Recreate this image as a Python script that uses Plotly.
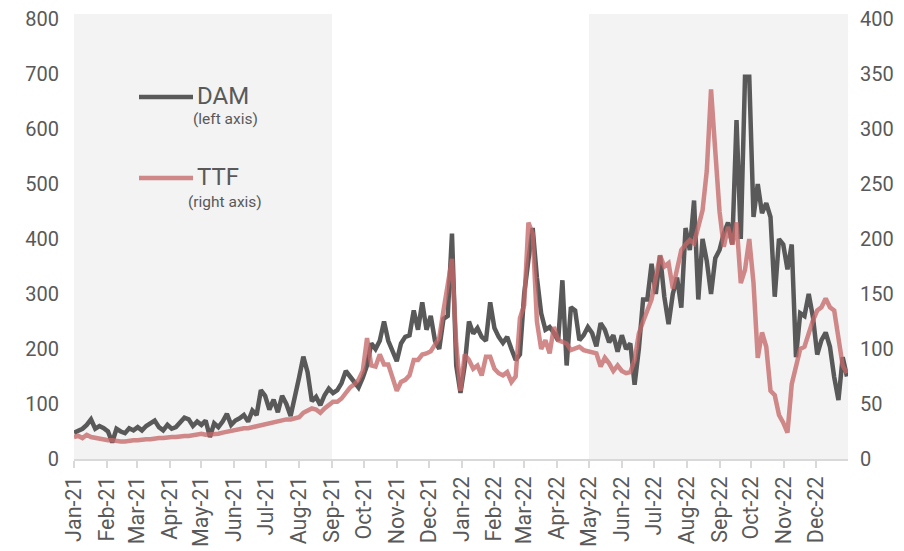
import pandas as pd
import plotly.graph_objects as go

# Observations every 4 days from 1 Jan 2021
start_date = "2021-01-01"
step = "4D"

dam = [48,52,55,62,72,55,60,56,50,30,55,50,47,56,52,58,52,60,65,70,58,52,62,55,58,68,75,72,60,68,62,
       70,40,65,58,68,82,62,70,74,80,68,88,80,125,115,90,108,85,115,100,78,110,148,186,158,105,113,98,116,128,120,
       125,138,160,150,140,130,148,170,210,200,215,250,215,195,178,210,222,225,270,235,285,235,260,215,200,255,260,410,170,120,170,
       250,228,238,222,215,285,238,222,211,222,200,180,190,300,362,420,330,265,235,240,229,215,325,170,276,270,216,225,240,229,
       205,247,235,212,225,195,225,200,210,135,200,290,290,355,300,370,295,245,300,330,275,420,380,470,290,400,360,300,365,380,410,
       430,390,616,400,695,695,440,500,447,465,440,295,400,390,345,390,185,265,260,300,258,190,216,230,204,149,107,185,150]

ttf = [20,21,19,22,20,19,18,18,17,17,16,16,16,17,17,17,18,18,18,19,19,19,20,20,20,21,21,21,22,22,23,
       22,22,23,23,24,25,25,26,27,28,28,29,30,31,32,33,34,35,35,36,36,37,38,42,44,46,45,42,46,49,52,
       52,55,60,65,68,72,80,110,85,84,95,86,86,75,62,70,72,76,90,90,95,96,98,104,110,135,160,182,105,62,95,
       90,82,85,76,93,93,82,78,76,79,70,75,128,140,215,205,125,100,108,96,120,108,106,105,99,100,102,99,98,96,
       96,84,92,87,80,85,80,78,79,90,114,125,135,145,165,185,175,178,155,172,190,195,199,196,210,226,262,336,280,225,193,
       211,195,215,160,172,200,160,92,115,102,62,58,40,33,24,68,85,100,102,115,126,135,138,146,138,135,110,85,78]

dates = pd.date_range(start_date, periods=len(dam), freq=step)

shade_periods = [("2021-01-01", "2021-09-01"), ("2022-05-01", "2022-12-31")]

DAM_COLOR = "#595959"
TTF_COLOR = "rgba(196,104,104,0.78)"
TEXT = "#595959"
FONT = "Roboto"

# page body has an 8px default margin; size the figure so the plot lands where the reference has it
W, H = 896, 543
L, R, T, B = 66, 56, 11, 92
PW, PH = W - L - R, H - T - B


def px(xpage):
    return (xpage - 8 - L) / PW


def py(ypage):
    return (H - B - (ypage - 8)) / PH


fig = go.Figure()
fig.add_trace(go.Scatter(x=dates, y=dam, mode="lines", name="DAM",
                         line=dict(color=DAM_COLOR, width=4.5), yaxis="y"))
fig.add_trace(go.Scatter(x=dates, y=ttf, mode="lines", name="TTF",
                         line=dict(color=TTF_COLOR, width=4.5), yaxis="y2"))

for a, b in shade_periods:
    fig.add_shape(type="rect", xref="x", yref="paper", x0=a, x1=b, y0=0, y1=py(14),
                  fillcolor="#f3f3f3", line_width=0, layer="below")

# custom legend
fig.add_shape(type="line", xref="paper", yref="paper", x0=px(139), x1=px(193),
              y0=py(97), y1=py(97), line=dict(color=DAM_COLOR, width=4.5))
fig.add_shape(type="line", xref="paper", yref="paper", x0=px(139), x1=px(193),
              y0=py(178), y1=py(178), line=dict(color=TTF_COLOR, width=4.5))
fig.add_annotation(xref="paper", yref="paper", x=px(195), y=py(96), text="DAM",
                   showarrow=False, xanchor="left", yanchor="middle",
                   font=dict(family=FONT, size=24, color=TEXT))
fig.add_annotation(xref="paper", yref="paper", x=px(225), y=py(119), text="(left axis)",
                   showarrow=False, xanchor="center", yanchor="middle",
                   font=dict(family=FONT, size=15.5, color=TEXT))
fig.add_annotation(xref="paper", yref="paper", x=px(195), y=py(177), text="TTF",
                   showarrow=False, xanchor="left", yanchor="middle",
                   font=dict(family=FONT, size=24, color=TEXT))
fig.add_annotation(xref="paper", yref="paper", x=px(225), y=py(202), text="(right axis)",
                   showarrow=False, xanchor="center", yanchor="middle",
                   font=dict(family=FONT, size=15.5, color=TEXT))

fig.update_layout(
    width=W, height=H,
    margin=dict(l=L, r=R, t=T, b=B),
    plot_bgcolor="white", paper_bgcolor="white",
    showlegend=False,
    font=dict(family=FONT, size=20, color=TEXT),
    xaxis=dict(range=["2021-01-01", "2022-12-31"], tickformat="%b-%y", dtick="M1",
               tick0="2021-01-01", tickangle=-90, showgrid=False, zeroline=False,
               showline=True, linecolor="#d9d9d9", linewidth=1.5,
               ticks="outside", ticklen=7, tickcolor="#d9d9d9", tickwidth=1.5,
               tickfont=dict(family=FONT, size=21.5, color=TEXT), automargin=False,
               ticklabeloverflow="allow"),
    yaxis=dict(range=[0, 800], dtick=100, showgrid=False, zeroline=False,
               tickfont=dict(family=FONT, size=20, color=TEXT), ticklabelstandoff=14,
               automargin=False, ticklabeloverflow="allow"),
    yaxis2=dict(range=[0, 400], dtick=50, overlaying="y", side="right", showgrid=False,
                zeroline=False, tickfont=dict(family=FONT, size=20, color=TEXT),
                ticklabelstandoff=11, automargin=False, ticklabeloverflow="allow"),
)

fig.write_html("out.html")
